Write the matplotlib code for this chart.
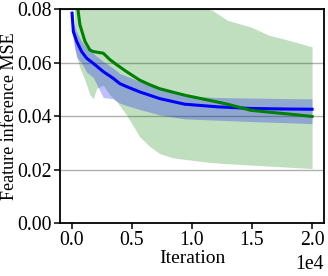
import numpy as np
import matplotlib
matplotlib.use("Agg")
import matplotlib.pyplot as plt

plt.rcParams["font.family"] = ["Liberation Serif", "DejaVu Serif"]
plt.rcParams["font.size"] = 14.2

# ------------------------------------------------------------
# Data (iteration, MSE)
# ------------------------------------------------------------
blue_iter = [0, 110, 390, 800, 1220, 1770, 2600, 3430, 3980, 4540, 5640, 7300,
             9380, 12140, 14900, 17680, 20000]
blue_mean = [0.0786, 0.0717, 0.0680, 0.0642, 0.0617, 0.0598, 0.0567, 0.0542,
             0.0522, 0.0511, 0.0491, 0.0466, 0.0445, 0.0435, 0.0429, 0.0427, 0.0426]
blue_hi = [0.0810, 0.0750, 0.0715, 0.0680, 0.0655, 0.0635, 0.0605, 0.0580,
           0.0560, 0.0550, 0.0530, 0.0505, 0.0475, 0.0470, 0.0468, 0.0466, 0.0465]
blue_lo = [0.0760, 0.0680, 0.0620, 0.0600, 0.0565, 0.0545, 0.0470, 0.0465,
           0.0449, 0.0440, 0.0425, 0.0405, 0.0390, 0.0385, 0.0380, 0.0376, 0.0372]

green_iter = [200, 660, 1080, 1490, 1770, 2050, 2600, 3150, 3710, 4540, 5640,
              6470, 7300, 8400, 9450, 11700, 12950, 14900, 16430, 18090, 20000]
green_mean = [0.0900, 0.0742, 0.0680, 0.0648, 0.0642, 0.0640, 0.0636, 0.0612,
              0.0593, 0.0567, 0.0535, 0.0518, 0.0503, 0.0490, 0.0478, 0.0457,
              0.0445, 0.0422, 0.0415, 0.0408, 0.0399]
green_hi = [0.1200, 0.1150, 0.1100, 0.1080, 0.1060, 0.1040, 0.1000, 0.0980,
            0.0960, 0.0930, 0.0900, 0.0880, 0.0860, 0.0840, 0.0820, 0.0796,
            0.0759, 0.0734, 0.0703, 0.0684, 0.0660]
green_lo = [0.0660, 0.0580, 0.0535, 0.0480, 0.0466, 0.0504, 0.0516, 0.0480,
            0.0455, 0.0405, 0.0323, 0.0287, 0.0260, 0.0244, 0.0238, 0.0226,
            0.0222, 0.0217, 0.0213, 0.0209, 0.0204]

# ------------------------------------------------------------
# Figure
# ------------------------------------------------------------
fig = plt.figure(figsize=(3.28, 2.76), dpi=100)
ax = fig.add_axes([0.183, 0.192, 0.805, 0.774])

ax.fill_between(green_iter, green_lo, green_hi, color="green", alpha=0.25, linewidth=0)
ax.fill_between(blue_iter, blue_lo, blue_hi, color="blue", alpha=0.25, linewidth=0)
ax.plot(blue_iter, blue_mean, color="blue", linewidth=2.2)
ax.plot(green_iter, green_mean, color="green", linewidth=2.2)

ax.set_xlim(-1000, 21000)
ax.set_ylim(0, 0.08)
ax.set_yticks([0.00, 0.02, 0.04, 0.06, 0.08])
ax.set_xticks([0, 5000, 10000, 15000, 20000])
ax.ticklabel_format(style="sci", axis="x", scilimits=(0, 0))
ax.yaxis.grid(True, color="#b0b0b0", linewidth=1)
ax.set_axisbelow(True)

for s in ax.spines.values():
    s.set_linewidth(1.3)
ax.tick_params(width=1.1, length=4, pad=2)

ax.set_xlabel("Iteration", labelpad=0, fontsize=14)
ax.set_ylabel("Feature inference MSE", fontsize=13)
# right edge of the rotated label sits just left of the tick labels
ax.yaxis.set_label_coords(-0.158, 0.5)

plt.savefig("out.png", dpi=100)
plt.close()
